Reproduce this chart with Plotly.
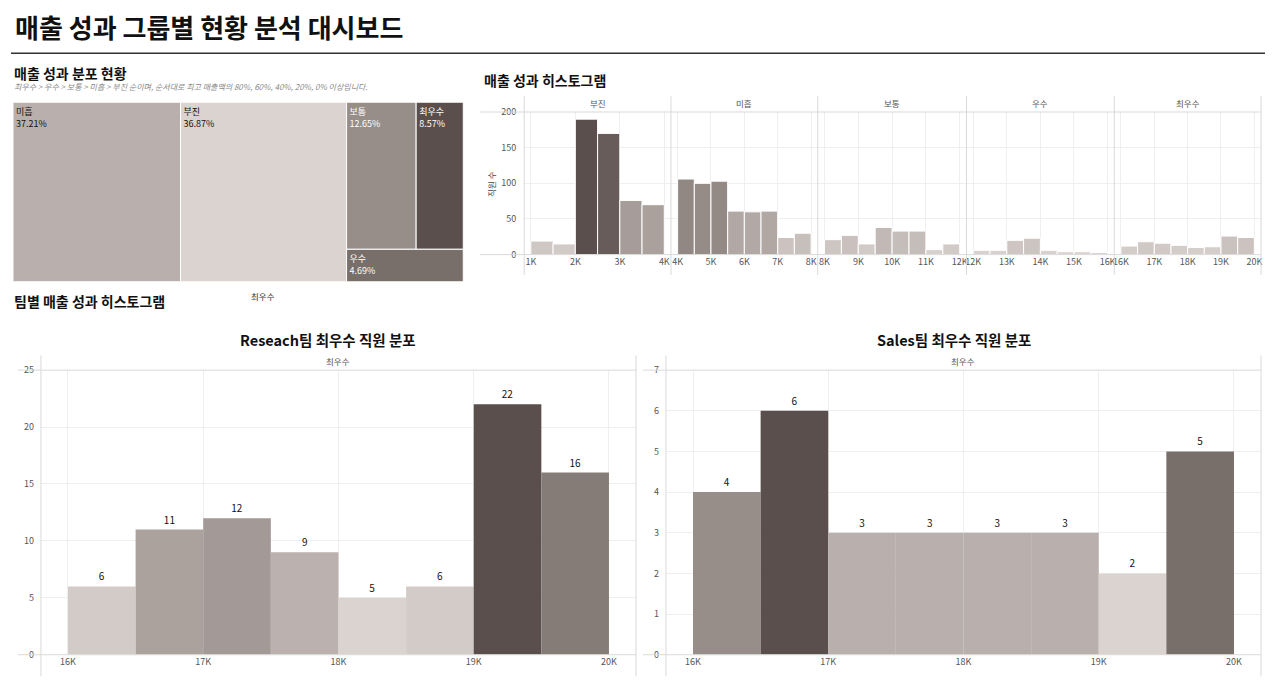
import plotly.graph_objects as go

W, H = 1280, 700
FONT = "Noto Sans CJK KR"
GRID = "#efefef"
EDGE = "#d9d9d9"

# ---- 매출 성과 분포 (트리맵) ----
grade_names = ["미흡", "부진", "보통", "최우수", "우수"]
grade_share = [37.21, 36.87, 12.65, 8.57, 4.69]

# ---- 매출 성과 히스토그램: 등급별 구간 시작값 / 직원 수 ----
bins_bujin = [1000, 1500, 2000, 2500, 3000, 3500]
count_bujin = [19, 15, 190, 170, 76, 70]
bins_mihup = [4000, 4500, 5000, 5500, 6000, 6500, 7000, 7500]
count_mihup = [106, 100, 103, 61, 60, 61, 24, 30]
bins_botong = [8000, 8500, 9000, 9500, 10000, 10500, 11000, 11500]
count_botong = [21, 27, 15, 38, 33, 33, 7, 15]
bins_usu = [12000, 12500, 13000, 13500, 14000, 14500, 15000, 15500]
count_usu = [6, 6, 20, 23, 6, 4, 4, 3]
bins_choi = [16000, 16500, 17000, 17500, 18000, 18500, 19000, 19500]
count_choi = [12, 18, 16, 13, 10, 11, 26, 24]

ticks_bujin = [1000, 2000, 3000, 4000]
labels_bujin = ["1K", "2K", "3K", "4K"]
ticks_mihup = [4000, 5000, 6000, 7000, 8000]
labels_mihup = ["4K", "5K", "6K", "7K", "8K"]
ticks_botong = [8000, 9000, 10000, 11000, 12000]
labels_botong = ["8K", "9K", "10K", "11K", "12K"]
ticks_usu = [12000, 13000, 14000, 15000, 16000]
labels_usu = ["12K", "13K", "14K", "15K", "16K"]
ticks_choi = [16000, 17000, 18000, 19000, 20000]
labels_choi = ["16K", "17K", "18K", "19K", "20K"]

# ---- 팀별 최우수 직원 분포 ----
team_bins = [16000, 16500, 17000, 17500, 18000, 18500, 19000, 19500]
research_counts = [6, 11, 12, 9, 5, 6, 22, 16]
sales_counts = [4, 6, 3, 3, 3, 3, 2, 5]
team_ticks = [16000, 17000, 18000, 19000, 20000]
team_tick_labels = ["16K", "17K", "18K", "19K", "20K"]

palette = ["#dbd3cf", "#b9b0ad", "#978d89", "#786e6a", "#5a4f4c"]
cscale = [[i / 4, c] for i, c in enumerate(palette)]
grade_color = {"부진": palette[0], "미흡": palette[1], "보통": palette[2],
               "우수": palette[3], "최우수": palette[4]}


def px_x(v):
    return v / W


def px_y(v):
    return 1 - v / H


fig = go.Figure()
layout = {}
annotations = []
shapes = []


def text(x, y, s, size=9, color="#222", xanchor="left", yanchor="middle", angle=0):
    annotations.append(dict(x=px_x(x), y=px_y(y), xref="paper", yref="paper", text=s,
                            showarrow=False, xanchor=xanchor, yanchor=yanchor, textangle=angle,
                            font=dict(size=size, color=color, family=FONT)))


def line(x0, y0, x1, y1, color=EDGE, width=1):
    shapes.append(dict(type="line", xref="paper", yref="paper", x0=px_x(x0), y0=px_y(y0),
                       x1=px_x(x1), y1=px_y(y1), line=dict(color=color, width=width)))


# titles
text(12, 20, "<b>매출 성과 그룹별 현황 분석 대시보드</b>", size=26, color="#111")
line(10, 47, 1266, 47, color="#333", width=1.5)

# ---- treemap ----
text(11, 67, "<b>매출 성과 분포 현황</b>", size=14, color="#111")
text(11, 81, "<i>최우수 > 우수 > 보통 > 미흡 > 부진 순이며, 순서대로 최고 매출액의 80%, 60%, 40%, 20%, 0% 이상입니다.</i>",
     size=8, color="#888")
fig.add_trace(go.Treemap(
    labels=grade_names,
    parents=[""] * len(grade_names),
    values=grade_share,
    sort=True,
    marker=dict(colors=[grade_color[g] for g in grade_names],
                line=dict(color="white", width=1),
                pad=dict(t=0, l=0, r=0, b=0)),
    tiling=dict(packing="squarify", squarifyratio=1.618, pad=0),
    texttemplate="%{label}<br>%{value:.2f}%",
    textposition="top left",
    textfont=dict(size=9, family=FONT,
                  color=["#111" if g in ("미흡", "부진") else "white" for g in grade_names]),
    pathbar=dict(visible=False),
    domain=dict(x=[px_x(12), px_x(463)], y=[px_y(280), px_y(97)]),
))
text(262, 294, "최우수", size=8.5, color="#333", xanchor="center")

# ---- 매출 성과 히스토그램 ----
text(482, 74, "<b>매출 성과 히스토그램</b>", size=14, color="#111")
panels = [
    ("부진", bins_bujin, count_bujin, ticks_bujin, labels_bujin, 524, 671),
    ("미흡", bins_mihup, count_mihup, ticks_mihup, labels_mihup, 671, 818),
    ("보통", bins_botong, count_botong, ticks_botong, labels_botong, 818, 967),
    ("우수", bins_usu, count_usu, ticks_usu, labels_usu, 967, 1115),
    ("최우수", bins_choi, count_choi, ticks_choi, labels_choi, 1115, 1262),
]
all_counts = count_bujin + count_mihup + count_botong + count_usu + count_choi
for i, (name, bins, counts, tv, tt, x0, x1) in enumerate(panels, start=1):
    ax = "x" if i == 1 else f"x{i}"
    fig.add_trace(go.Bar(
        x=bins, y=counts, width=500, offset=0, xaxis=ax, yaxis="y",
        marker=dict(color=counts, colorscale=cscale, cmin=min(all_counts), cmax=max(all_counts),
                    line=dict(color="white", width=1)),
        showlegend=False, name=name,
    ))
    pad = 0.05 * (tv[-1] - tv[0])
    layout["xaxis" if i == 1 else f"xaxis{i}"] = dict(
        domain=[px_x(x0), px_x(x1)], range=[tv[0] - pad, tv[-1] + pad], anchor="y",
        tickvals=tv, ticktext=tt, showgrid=True, gridcolor=GRID, zeroline=False,
        showline=False, ticks="", tickfont=dict(size=9, color="#555"), fixedrange=True)
    text((x0 + x1) / 2, 98, name, size=8.5, color="#555", xanchor="center")
    line(x0, 91, x0, 273)
line(1262, 91, 1262, 273)
line(480, 107, 1262, 107)
line(480, 252.3, 1262, 252.3)
layout["yaxis"] = dict(domain=[px_y(252.3), px_y(107)], range=[0, 200], anchor="x",
                       tickvals=[0, 50, 100, 150, 200], showgrid=True, gridcolor=GRID,
                       zeroline=False, showline=False, ticks="", ticklabelstandoff=7,
                       tickfont=dict(size=9, color="#555"), fixedrange=True)
text(490, 180, "직원 수", size=8.5, color="#444", xanchor="center", angle=-90)

# ---- 팀별 최우수 직원 분포 ----
text(11, 300, "<b>팀별 매출 성과 히스토그램</b>", size=14, color="#111")
teams = [
    ("Reseach팀 최우수 직원 분포", research_counts, 40, 636, 25, 5),
    ("Sales팀 최우수 직원 분포", sales_counts, 666, 1262, 7, 1),
]
for j, (title, counts, x0, x1, ymax, dy) in enumerate(teams, start=6):
    fig.add_trace(go.Bar(
        x=team_bins, y=counts, width=500, offset=0, xaxis=f"x{j}", yaxis=f"y{j}",
        marker=dict(color=counts, colorscale=cscale, cmin=min(counts), cmax=max(counts),
                    line=dict(width=0)),
        text=counts, textposition="outside", cliponaxis=False,
        textfont=dict(size=10, color="#111", family=FONT),
        showlegend=False,
    ))
    pad = 0.05 * (team_ticks[-1] - team_ticks[0])
    layout[f"xaxis{j}"] = dict(
        domain=[px_x(x0), px_x(x1)], range=[team_ticks[0] - pad, team_ticks[-1] + pad],
        anchor=f"y{j}", tickvals=team_ticks, ticktext=team_tick_labels, showgrid=True,
        gridcolor=GRID, zeroline=False, showline=False, ticks="",
        tickfont=dict(size=9, color="#555"), fixedrange=True)
    layout[f"yaxis{j}"] = dict(
        domain=[px_y(660), px_y(370)], range=[0, ymax], dtick=dy, anchor=f"x{j}",
        showgrid=True, gridcolor=GRID, zeroline=False, showline=False, ticks="",
        ticklabelstandoff=6, tickfont=dict(size=9, color="#555"), fixedrange=True)
    text((x0 + x1) / 2 - 10, 339, f"<b>{title}</b>", size=14.5, color="#111", xanchor="center")
    text((x0 + x1) / 2, 361, "최우수", size=8.5, color="#555", xanchor="center")
    line(x0, 355, x0, 682)
    line(x1, 355, x1, 682)
    line(x0 - 23, 370, x1, 370)
    line(x0 - 23, 660, x1, 660)

fig.update_layout(
    width=W, height=H,
    margin=dict(l=0, r=0, t=0, b=0),
    paper_bgcolor="white", plot_bgcolor="white",
    font=dict(family=FONT, color="#222"),
    showlegend=False,
    annotations=annotations,
    shapes=shapes,
    **layout,
)
# the page body has a default 8px margin; drop it so the 1280x700 figure fills the window
fig.write_html("out.html", config={"displayModeBar": False},
               post_script="document.body.style.margin='0';")
